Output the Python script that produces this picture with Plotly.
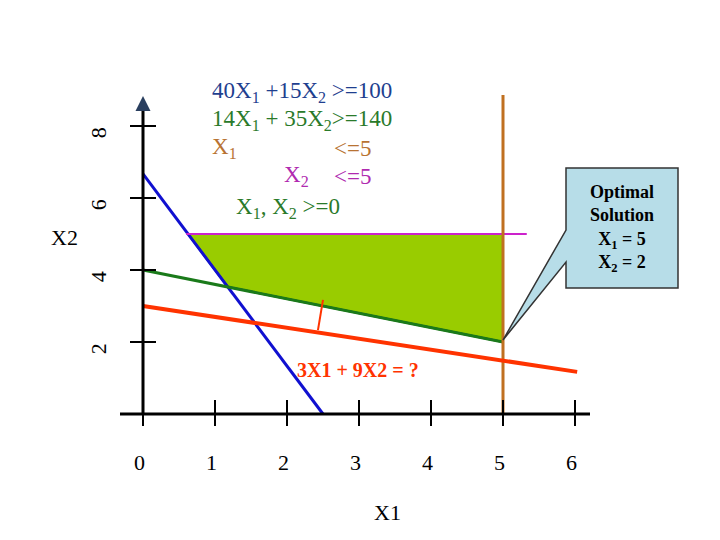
import plotly.graph_objects as go

# constraint lines (X1, X2 endpoints)
blue_x = [0, 2.5]
blue_y = [6.67, 0]
green_x = [0, 5]
green_y = [4, 2]
purple_x = [0.6, 5.33]
purple_y = [5, 5]
orange_x = [5, 5]
orange_y = [0, 8.86]
red_x = [0, 6.03]
red_y = [3.0, 1.17]
feasible_x = [0.625, 5, 5, 1.176, 0.625]
feasible_y = [5, 5, 2, 3.53, 5]
arrow_x = [2.5, 2.43]
arrow_y = [3.17, 2.33]
x_ticks = [0, 1, 2, 3, 4, 5, 6]
y_ticks = [2, 4, 6, 8]

SERIF = "Liberation Serif"
BLUE, GREEN, ORANGE, MAGENTA = "#1f3f8f", "#2a7a2a", "#b87333", "#b02ab0"


def px(x):
    return (x - 143) / 72


def py(y):
    return (414 - y) / 36


fig = go.Figure()
fig.add_trace(go.Scatter(x=feasible_x, y=feasible_y, fill="toself", fillcolor="#99cc00",
                         line=dict(color="black", width=2), mode="lines"))
for xs, ys, c, w in [(blue_x, blue_y, "#1010d0", 3), (green_x, green_y, "#1a7a1a", 3),
                     (purple_x, purple_y, "#cc22cc", 2), (orange_x, orange_y, "#c07020", 3),
                     (red_x, red_y, "#ff3300", 4), (arrow_x, arrow_y, "#ff3300", 2)]:
    fig.add_trace(go.Scatter(x=xs, y=ys, mode="lines", line=dict(color=c, width=w)))

# axes
fig.add_shape(type="line", x0=px(120), x1=px(590), y0=0, y1=0, line=dict(color="black", width=3))
fig.add_shape(type="line", x0=0, x1=0, y0=0, y1=py(100), line=dict(color="black", width=3))
fig.add_annotation(x=0, y=py(96), ax=0, ay=py(110), xref="x", yref="y", axref="x", ayref="y",
                   showarrow=True, arrowhead=2, arrowsize=1, arrowwidth=3, text="")
for t in x_ticks:
    fig.add_shape(type="line", x0=t, x1=t, y0=py(400), y1=py(426), line=dict(color="black", width=2))
    fig.add_annotation(x=t - 0.05, y=py(462), text=str(t), showarrow=False,
                       font=dict(family=SERIF, size=22, color="black"))
for t in y_ticks:
    fig.add_shape(type="line", x0=px(130), x1=px(156), y0=t, y1=t, line=dict(color="black", width=2))
    fig.add_annotation(x=px(98), y=t - 0.2, text=str(t), showarrow=False, textangle=-90,
                       font=dict(family=SERIF, size=22, color="black"))
fig.add_annotation(x=px(64), y=py(237), text="X2", showarrow=False, font=dict(family=SERIF, size=22, color="black"))
fig.add_annotation(x=px(387), y=py(512), text="X1", showarrow=False, font=dict(family=SERIF, size=22, color="black"))

# constraint text
txt = [("40X<sub>1</sub> +15X<sub>2</sub> >=100", 210, 92, BLUE),
       ("14X<sub>1</sub> + 35X<sub>2</sub>>=140", 210, 120, GREEN),
       ("X<sub>1</sub>", 210, 148, ORANGE), ("<=5", 332, 148, ORANGE),
       ("X<sub>2</sub>", 282, 176, MAGENTA), ("<=5", 332, 176, MAGENTA),
       ("X<sub>1</sub>, X<sub>2</sub> >=0", 234, 208, GREEN)]
for s, x, y, c in txt:
    fig.add_annotation(x=px(x), y=py(y), text=s, showarrow=False, xanchor="left",
                       font=dict(family=SERIF, size=23, color=c))
fig.add_annotation(x=px(295), y=py(370), text="<b>3X1 + 9X2 = ?</b>", showarrow=False, xanchor="left",
                   font=dict(family=SERIF, size=20, color="#ff3300"))

# callout
pts = [(566, 168), (678, 168), (678, 288), (566, 288), (566, 262), (503, 340), (566, 230), (566, 168)]
path = "M " + " L ".join(f"{px(a)},{py(b)}" for a, b in pts) + " Z"
fig.add_shape(type="path", path=path, fillcolor="#b7dde8", line=dict(color="#333333", width=1.5))
fig.add_annotation(x=px(622), y=py(228), text="<b>Optimal<br>Solution<br>X<sub>1</sub> = 5<br>X<sub>2</sub> = 2</b>",
                   showarrow=False, font=dict(family=SERIF, size=18, color="black"))

# page has an 8px body margin, so shift the view to line up with the window
fig.update_layout(width=720, height=540, margin=dict(l=0, r=0, t=0, b=0), showlegend=False,
                  plot_bgcolor="white", paper_bgcolor="white",
                  xaxis=dict(range=[px(8), px(728)], visible=False),
                  yaxis=dict(range=[py(548), py(8)], visible=False))
fig.write_html("out.html")
